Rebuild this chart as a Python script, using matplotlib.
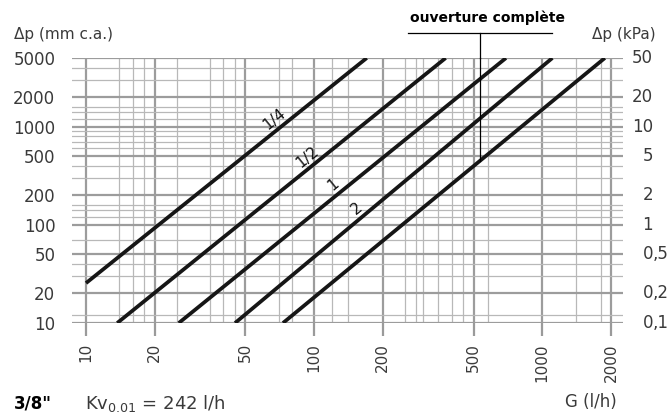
import numpy as np
import matplotlib
matplotlib.use('Agg')
from matplotlib import pyplot as plt

g_start = [10, 13.7, 25.5, 45, 73]
dp_start = [25.5, 10, 10, 10, 10]
g_end = [170, 377, 693, 1107, 1880]
dp_end = [5000, 5000, 5000, 5000, 5000]
line_labels = ['1/4', '1/2', '1', '2', '']
label_g = [67, 93, 121, 154]

x_major = [10, 20, 50, 100, 200, 500, 1000, 2000]
x_minor = [14, 16, 18, 25, 35, 40, 45, 70, 80, 120, 140, 250, 280, 300,
           350, 400, 450, 580, 1400, 1800]
y_major = [10, 20, 50, 100, 200, 500, 1000, 2000, 5000]
y_minor = [12, 30, 40, 70, 120, 140, 160, 300, 400, 600, 700, 800, 900,
           1200, 1400, 1600, 3000, 4000]
y_right = ['0,1', '0,2', '0,5', '1', '2', '5', '10', '20', '50']

g_open = 535  # ouverture complète
kv = 242

W, H = 671, 416
fig = plt.figure(figsize=(W / 100, H / 100), dpi=100)
ax = fig.add_axes([72 / W, 1 - 323 / H, 551 / W, 265 / H])
ax.set_xscale('log')
ax.set_yscale('log')
ax.set_xlim(8.68, 2258)
ax.set_ylim(10, 5000)

for s in ax.spines.values():
    s.set_visible(False)

txt_col = '#3a3a3a'
ax.set_xticks(x_major)
ax.set_xticks(x_minor, minor=True)
ax.set_yticks(y_major)
ax.set_yticks(y_minor, minor=True)
ax.set_xticklabels([str(v) for v in x_major], rotation=90, fontsize=11, color=txt_col)
ax.set_yticklabels([str(v) for v in y_major], fontsize=12, color=txt_col)
ax.xaxis.set_minor_formatter(matplotlib.ticker.NullFormatter())
ax.yaxis.set_minor_formatter(matplotlib.ticker.NullFormatter())
ax.tick_params(axis='x', which='major', length=9, width=1.6, color='#9a9a9a', pad=5.5)
ax.tick_params(axis='y', which='major', length=0, pad=12)
ax.tick_params(which='minor', length=0)

ax.grid(which='major', color='#9c9c9c', lw=1.6)
ax.grid(which='minor', color='#b8b8b8', lw=0.9)
ax.set_axisbelow(True)

# droites de perte de charge
for i in range(len(g_start)):
    ax.plot([g_start[i], g_end[i]], [dp_start[i], dp_end[i]], color='#161616', lw=2.7,
            solid_capstyle='butt')

# repères de position
for i, g in enumerate(label_g):
    t = (np.log10(g) - np.log10(g_start[i])) / (np.log10(g_end[i]) - np.log10(g_start[i]))
    dp = 10 ** (np.log10(dp_start[i]) + t * (np.log10(dp_end[i]) - np.log10(dp_start[i])))
    ax.annotate(line_labels[i], (g, dp), xytext=(0, 9.5), textcoords='offset points',
                rotation=39, ha='center', va='center', fontsize=11, color='#111111')

# ouverture complète
t = (np.log10(g_open) - np.log10(g_start[4])) / (np.log10(g_end[4]) - np.log10(g_start[4]))
dp_open = 10 ** (np.log10(dp_start[4]) + t * (np.log10(dp_end[4]) - np.log10(dp_start[4])))
ax.plot([g_open, g_open], [dp_open, 5000], color='black', lw=0.9, clip_on=False)
x_fig = ax.transData.transform((g_open, 10))[0] / W
fig.add_artist(plt.Line2D([x_fig, x_fig], [1 - 58 / H, 1 - 33 / H], color='black', lw=0.9))
fig.add_artist(plt.Line2D([408 / W, 552 / W], [1 - 33 / H, 1 - 33 / H], color='black', lw=0.9))
fig.text(487 / W, 1 - 18 / H, 'ouverture complète', ha='center', va='center',
         fontsize=10, fontweight='bold')

# échelle de droite en kPa
ytr = ax.get_yaxis_transform()
xr = (653 - 72) / 551
for v, lab in zip(y_major, y_right):
    if ',' in lab:
        a, b = lab.split(',')
        ax.text(xr, v, a, transform=ytr, ha='right', va='center', fontsize=12, color=txt_col)
        ax.text(xr, v, ',' + b, transform=ytr, ha='left', va='center', fontsize=12, color=txt_col)
    else:
        ax.text(xr, v, lab, transform=ytr, ha='right', va='center', fontsize=12, color=txt_col)

fig.text(14 / W, 1 - 35 / H, 'Δp (mm c.a.)', ha='left', va='center', fontsize=11, color=txt_col)
fig.text(656 / W, 1 - 35 / H, 'Δp (kPa)', ha='right', va='center', fontsize=11, color=txt_col)
fig.text(617 / W, 1 - 402 / H, 'G (l/h)', ha='right', va='center', fontsize=12, color=txt_col)
fig.text(14 / W, 1 - 403 / H, '3/8"', ha='left', va='center', fontsize=12, fontweight='bold')
fig.text(85 / W, 1 - 403 / H, 'Kv$_{0.01}$ = %d l/h' % kv, ha='left', va='center', fontsize=13,
         color=txt_col)

fig.savefig('out.png', dpi=100)
